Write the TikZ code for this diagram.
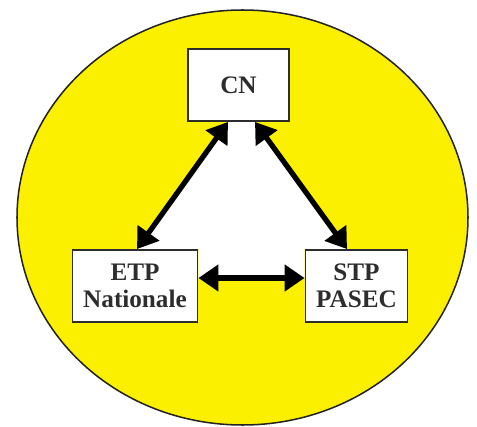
\documentclass[tikz,border=0pt]{standalone}
\usepackage{fontspec}
\setmainfont{Liberation Serif}
\usepackage{tikz}
\usetikzlibrary{arrows.meta,positioning,backgrounds}
\definecolor{ovalyellow}{RGB}{251,240,0}
\definecolor{inkgray}{RGB}{45,45,45}

\begin{document}
\begin{tikzpicture}[
  every node/.style={font=\fontsize{21.5}{23.5}\selectfont\bfseries, text=inkgray},
  unitbox/.style={draw=inkgray, line width=1.6pt, fill=white, align=center,
    minimum height=2.16cm, inner sep=2pt},
  link/.style={line width=4.5pt, {Triangle[length=17pt,width=22pt]}-{Triangle[length=17pt,width=22pt]}},
  >=Latex
]

\path[use as bounding box] (0,0) rectangle (14.31,12.78);

% Boxes.
\node[unitbox, minimum width=3.03cm] (cn)  at (7.155,10.23) {CN};
\node[unitbox, minimum width=3.75cm] (etp) at (4.050,4.20)  {ETP\\Nationale};
\node[unitbox, minimum width=3.06cm] (stp) at (10.695,4.20) {STP\\PASEC};

% Yellow oval and white inner triangle.
\begin{scope}[on background layer]
  \draw[line width=1.3pt, draw=inkgray!80!black, fill=ovalyellow]
    (7.275,6.255) ellipse [x radius=6.765, y radius=6.225];
  \fill[white] ([xshift=-0.315cm]cn.south) -- ([xshift=0.06cm]etp.north)
    -- (etp.north east) -- ([yshift=0.24cm]etp.east)
    -- ([yshift=0.24cm]stp.west) -- (stp.north west)
    -- ([xshift=-0.285cm]stp.north) -- ([xshift=0.495cm]cn.south) -- cycle;
\end{scope}

% Links.
\draw[link] ([xshift=-0.315cm]cn.south) -- ([xshift=0.06cm]etp.north);
\draw[link] ([xshift=0.495cm]cn.south) -- ([xshift=-0.285cm]stp.north);
\draw[link] ([yshift=0.24cm]etp.east) -- ([yshift=0.24cm]stp.west);

\end{tikzpicture}
\end{document}
